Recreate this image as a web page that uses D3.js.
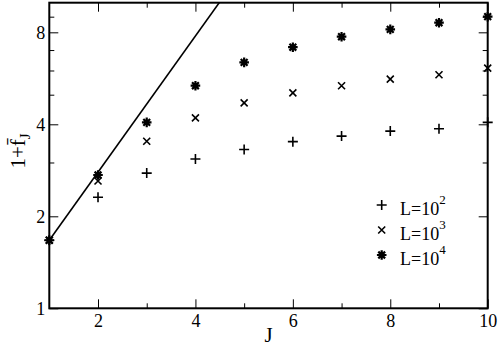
<!DOCTYPE html>
<html>
<head>
<meta charset="utf-8">
<script src="https://cdn.jsdelivr.net/npm/d3@7"></script>
<style>
  body { margin: 0; background: #fff; }
  text { font-family: "Liberation Serif", "DejaVu Serif", serif; fill: #000; }
</style>
</head>
<body>
<div id="container"></div>
<script>
// data
const J = [1, 2, 3, 4, 5, 6, 7, 8, 9, 10];
const L100 = [1.67, 2.31, 2.77, 3.08, 3.31, 3.51, 3.66, 3.80, 3.87, 4.06];
const L1000 = [1.67, 2.61, 3.52, 4.20, 4.70, 5.07, 5.35, 5.62, 5.81, 6.11];
const L10000 = [1.67, 2.73, 4.06, 5.35, 6.38, 7.15, 7.74, 8.18, 8.60, 9.0];
// straight guide line (log scale), clipped at the top of the frame
const lineJ = [1, 5];
const lineV = [1.67, 13.0];

const xMajor = [2, 4, 6, 8, 10];
const xMinor = [3, 5, 7, 9];
const yMajor = [1, 2, 4, 8];
const yMinor = [3, 5, 6, 7, 9];
const legendLabels = ['2', '3', '4'];

const W = 498, H = 348;
const x0 = 49.3, x1 = 487.7, yb = 308.3, yt = 2.7;

const svg = d3.select('#container')
  .append('svg')
  .attr('width', W)
  .attr('height', H);

const xScale = d3.scaleLinear().domain([1, 10]).range([x0, x1]);
const yScale = d3.scaleLog().domain([1, 10]).range([yb, yt]);

svg.append('clipPath').attr('id', 'clip')
  .append('rect')
  .attr('x', x0).attr('y', yt)
  .attr('width', x1 - x0).attr('height', yb - yt);

// ticks, all pointing inward
function ticks(axis, vals, size, tr, labels) {
  const g = svg.append('g')
    .attr('transform', tr)
    .call(axis.tickValues(vals).tickSize(-size).tickSizeOuter(0)
      .tickPadding(labels ? 6 : 0)
      .tickFormat(labels ? d3.format('d') : ''));
  g.select('.domain').remove();
  g.selectAll('.tick line').attr('stroke', '#000').attr('stroke-width', 1);
  g.selectAll('.tick text')
    .attr('font-family', 'Liberation Serif')
    .style('font-size', '18px');
  return g;
}
ticks(d3.axisBottom(xScale), xMajor, 9, `translate(0,${yb})`, true);
ticks(d3.axisBottom(xScale), xMinor, 5, `translate(0,${yb})`, false);
ticks(d3.axisTop(xScale), xMajor, 9, `translate(0,${yt})`, false);
ticks(d3.axisTop(xScale), xMinor, 5, `translate(0,${yt})`, false);
const yl = ticks(d3.axisLeft(yScale), yMajor, 9, `translate(${x0},0)`, true);
yl.selectAll('.tick text').attr('x', -4);
ticks(d3.axisLeft(yScale), yMinor, 5, `translate(${x0},0)`, false);
ticks(d3.axisRight(yScale), yMajor, 9, `translate(${x1},0)`, false);
ticks(d3.axisRight(yScale), yMinor, 5, `translate(${x1},0)`, false);

// frame
svg.append('rect')
  .attr('x', x0).attr('y', yt)
  .attr('width', x1 - x0).attr('height', yb - yt)
  .attr('fill', 'none')
  .attr('stroke', '#000')
  .attr('stroke-width', 2);

// guide line
const line = d3.line()
  .x(d => xScale(d[0]))
  .y(d => yScale(d[1]));
svg.append('path')
  .datum(d3.zip(lineJ, lineV))
  .attr('clip-path', 'url(#clip)')
  .attr('fill', 'none')
  .attr('stroke', '#000')
  .attr('stroke-width', 1.6)
  .attr('d', line);

// markers
const plusPath = 'M-5,0H5M0,-5V5';
const crossPath = 'M-3.5,-3.5L3.5,3.5M-3.5,3.5L3.5,-3.5';
const starPath = 'M-4.8,0H4.8M0,-4.8V4.8M-3.4,-3.4L3.4,3.4M-3.4,3.4L3.4,-3.4';
const series = [
  { vals: L100, path: plusPath, w: 1.6 },
  { vals: L1000, path: crossPath, w: 1.6 },
  { vals: L10000, path: starPath, w: 2.2 }
];
series.forEach(s => {
  svg.append('g')
    .selectAll('path')
    .data(d3.zip(J, s.vals))
    .join('path')
    .attr('transform', d => `translate(${xScale(d[0])},${yScale(d[1])})`)
    .attr('d', s.path)
    .attr('fill', 'none')
    .attr('stroke', '#000')
    .attr('stroke-width', s.w);
});

// legend
const lg = svg.append('g');
series.forEach((s, i) => {
  const ly = 205 + i * 25;
  lg.append('path')
    .attr('transform', `translate(381.7,${ly})`)
    .attr('d', s.path)
    .attr('fill', 'none')
    .attr('stroke', '#000')
    .attr('stroke-width', s.w);
  const t = lg.append('text')
    .attr('x', 400)
    .attr('y', ly + 10)
    .style('font-size', '18px');
  t.append('tspan').text('L=10');
  t.append('tspan')
    .attr('dy', -11)
    .style('font-size', '13px')
    .text(legendLabels[i]);
});

// axis labels
svg.append('text')
  .attr('text-anchor', 'middle')
  .attr('x', (x0 + x1) / 2)
  .attr('y', 342)
  .style('font-size', '21px')
  .text('J');

const yt2 = svg.append('text')
  .attr('text-anchor', 'middle')
  .attr('transform', `translate(25,151) rotate(-90)`)
  .style('font-size', '21px');
yt2.append('tspan').text('1+f\u0304');
yt2.append('tspan')
  .attr('dy', 5)
  .style('font-size', '15px')
  .text('J');
</script>
</body>
</html>
